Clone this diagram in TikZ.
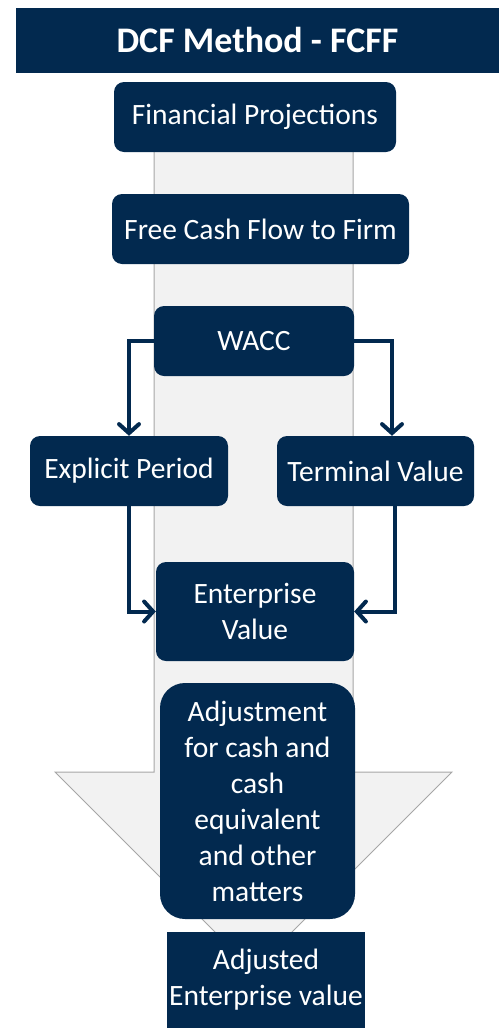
\documentclass[tikz,border=0pt]{standalone}
\usepackage{fontspec}
\setmainfont{Carlito}
\usepackage{xcolor}
\usetikzlibrary{arrows.meta}

\definecolor{navy}{RGB}{2,41,79}
\definecolor{shaft}{RGB}{242,242,242}
\definecolor{shaftline}{RGB}{166,166,166}

\begin{document}
\begin{tikzpicture}[
    x=1pt, y=-1pt,
    box/.style={rectangle, rounded corners=10pt, fill=navy, text=white, inner sep=0pt, align=center,
        font=\fontsize{29.5}{36}\selectfont},
    flow/.style={-{Straight Barb[length=9pt, width=20pt, line cap=round]}, line width=4pt, draw=navy, line cap=round},
]
    \useasboundingbox (0,0) rectangle (499,1028);

    % Big arrow behind
    \draw[fill=shaft, draw=shaftline, line width=1pt]
        (154,150) -- (154,772) -- (55,772) -- (253.5,970.5) -- (452,772) -- (353,772) -- (353,150) -- cycle;

    % Title
    \node[box, rounded corners=0pt, minimum width=483pt, minimum height=65pt,
        font=\fontsize{36}{40}\selectfont\bfseries] (title) at (257.5,40.5) {DCF Method - FCFF};

    % Boxes
    \node[box, minimum width=282pt, minimum height=70pt] (proj) at (255,117) {Financial Projections};
    \node[box, minimum width=297pt, minimum height=70pt] (fcff) at (260.5,229) {Free Cash Flow to Firm};
    \node[box, minimum width=200pt, minimum height=70pt] (wacc) at (254,341) {WACC};
    \node[box, minimum width=198pt, minimum height=70pt] (explicit) at (129,471) {Explicit Period};
    \node[box, minimum width=197pt, minimum height=70pt] (terminal) at (375.5,471) {Terminal Value};
    \node[box, minimum width=198pt, minimum height=99pt] (ev) at (255,611.5) {Enterprise\\Value};
    \node[box, rounded corners=25pt, minimum width=195pt, minimum height=236pt] (adj) at (257.5,801)
        {Adjustment\\for cash and\\cash\\equivalent\\and other\\matters};
    \node[box, rounded corners=0pt, minimum width=198pt, minimum height=96pt] (adjev) at (266,980)
        {Adjusted\\Enterprise value};

    % Arrows
    \draw[flow] (wacc.west) -| (explicit.north);
    \draw[flow] (wacc.east) -| ([xshift=16.5pt]terminal.north);
    \draw[flow] (explicit.south) |- (ev.west);
    \draw[flow] ([xshift=19.5pt]terminal.south) |- (ev.east);
\end{tikzpicture}
\end{document}
